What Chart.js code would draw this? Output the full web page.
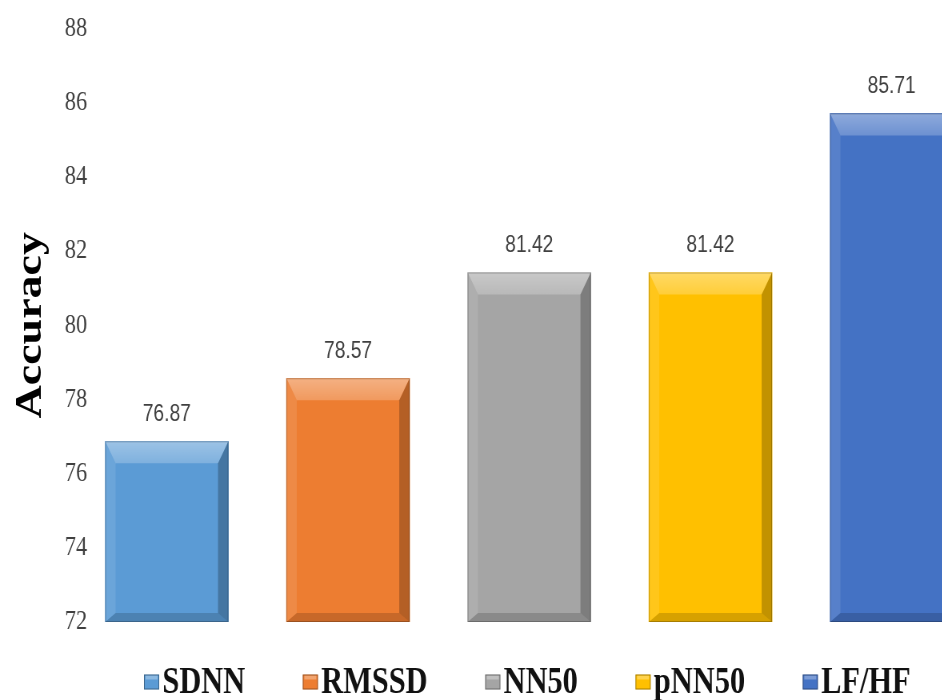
<!DOCTYPE html>
<html>
<head>
<meta charset="utf-8">
<script src="https://cdn.jsdelivr.net/npm/chart.js@4"></script>
<style>
html, body { margin: 0; padding: 0; background: #fff; overflow: hidden; width: 942px; height: 700px; }
/* the chart is laid out wide and narrowed horizontally, giving condensed lettering */
#wrap { width: 1260px; height: 700px; transform: scaleX(0.8); transform-origin: 0 0; }
#chart { display: block; width: 1260px; height: 700px; }
</style>
</head>
<body>
<div id="wrap"><canvas id="chart" width="1260" height="700"></canvas></div>
<script>
// HRV feature vs. classification accuracy
const measures = ['SDNN', 'RMSSD', 'NN50', 'pNN50', 'LF/HF'];
const accuracy = [76.87, 78.57, 81.42, 81.42, 85.71];
const yTicks = [72, 74, 76, 78, 80, 82, 84, 86, 88];
const barColors = ['#5B9BD5', '#ED7D31', '#A5A5A5', '#FFC000', '#4472C4'];

const poly = (ctx, pts, fill) => {
  ctx.beginPath();
  ctx.moveTo(pts[0][0], pts[0][1]);
  for (let k = 1; k < pts.length; k++) ctx.lineTo(pts[k][0], pts[k][1]);
  ctx.closePath();
  ctx.fillStyle = fill;
  ctx.fill();
};

// bevelled look on each bar
const bevelPlugin = {
  id: 'bevel',
  afterDatasetsDraw(chart) {
    const ctx = chart.ctx;
    const bottom = chart.chartArea.bottom;
    chart.getDatasetMeta(0).data.forEach((bar) => {
      const { x, y, base, width } = bar.getProps(['x', 'y', 'base', 'width'], true);
      const l = x - width / 2, r = x + width / 2, t = y, b = Math.min(base, bottom);
      const sx = 13, st = 22, sb = 9;
      ctx.save();
      const g = ctx.createLinearGradient(0, t, 0, t + st);
      g.addColorStop(0, 'rgba(255,255,255,0.40)');
      g.addColorStop(1, 'rgba(255,255,255,0.22)');
      poly(ctx, [[l, t], [r, t], [r - sx, t + st], [l + sx, t + st]], g);
      poly(ctx, [[l, t], [l + sx, t + st], [l + sx, b - sb], [l, b]], 'rgba(255,255,255,0.10)');
      poly(ctx, [[r, t], [r, b], [r - sx, b - sb], [r - sx, t + st]], 'rgba(0,0,0,0.24)');
      poly(ctx, [[l, b], [l + sx, b - sb], [r - sx, b - sb], [r, b]], 'rgba(0,0,0,0.16)');
      ctx.strokeStyle = 'rgba(0,0,0,0.22)';
      ctx.lineWidth = 1;
      ctx.strokeRect(l + 0.5, t + 0.5, width - 1, b - t - 1);
      ctx.restore();
    });
  }
};

// value printed above each bar
const valueLabels = {
  id: 'valueLabels',
  afterDatasetsDraw(chart) {
    const ctx = chart.ctx;
    const ds = chart.data.datasets[0];
    ctx.save();
    ctx.font = '24px "Liberation Sans", Arial, sans-serif';
    ctx.fillStyle = '#404040';
    ctx.textAlign = 'center';
    ctx.textBaseline = 'middle';
    chart.getDatasetMeta(0).data.forEach((bar, i) => {
      ctx.fillText(ds.data[i].y.toFixed(2), bar.x, bar.y - 27);
    });
    ctx.restore();
  }
};

// legend row beneath the plot
const legendRow = {
  id: 'legendRow',
  afterDraw(chart) {
    const ctx = chart.ctx;
    const area = chart.chartArea;
    const boxW = 19, boxH = 15, gapBox = 4, gapItem = 72;
    const cy = 682;
    ctx.save();
    ctx.font = 'bold 38px "Liberation Serif", "Times New Roman", serif';
    ctx.textBaseline = 'middle';
    ctx.textAlign = 'left';
    let xPos = area.left + 53;
    measures.forEach((m, i) => {
      const w = ctx.measureText(m).width;
      ctx.fillStyle = barColors[i];
      ctx.fillRect(xPos, cy - boxH / 2, boxW, boxH);
      ctx.fillStyle = 'rgba(255,255,255,0.3)';
      ctx.fillRect(xPos + 2, cy - boxH / 2 + 1, boxW - 4, 4);
      ctx.strokeStyle = 'rgba(0,0,0,0.35)';
      ctx.lineWidth = 1;
      ctx.strokeRect(xPos + 0.5, cy - boxH / 2 + 0.5, boxW - 1, boxH - 1);
      ctx.fillStyle = '#111';
      ctx.fillText(m, xPos + boxW + gapBox, cy + 1);
      xPos += boxW + gapBox + w + gapItem;
    });
    ctx.restore();
  }
};

new Chart(document.getElementById('chart'), {
  type: 'bar',
  data: {
    datasets: [{
      label: 'Accuracy',
      data: measures.map((m, i) => ({ x: i, y: accuracy[i] })),
      backgroundColor: barColors,
      borderWidth: 0,
      barThickness: 154
    }]
  },
  options: {
    responsive: false,
    animation: false,
    devicePixelRatio: 1,
    layout: { padding: { top: 28.5, right: 9, bottom: 78, left: 0 } },
    plugins: { legend: { display: false }, tooltip: { enabled: false } },
    scales: {
      x: {
        type: 'linear',
        display: false,
        offset: false,
        grid: { offset: false },
        min: -0.36,
        max: 4.602
      },
      y: {
        min: 72,
        max: 88,
        afterBuildTicks: (scale) => { scale.ticks = yTicks.map(v => ({ value: v })); },
        // keep the tick-label gap from adding space above and below the plot
        afterFit: (scale) => { scale.paddingTop = 0; scale.paddingBottom = 0; },
        grid: { display: false, drawTicks: false },
        border: { display: false },
        ticks: {
          padding: 18,
          color: '#404040',
          font: { family: '"Liberation Serif", "Times New Roman", serif', size: 28 }
        },
        title: {
          display: true,
          text: 'Accuracy',
          color: '#000',
          padding: { top: 16, bottom: 1 },
          font: { family: '"Liberation Serif", "Times New Roman", serif', size: 46, weight: 'bold', lineHeight: 1 }
        }
      }
    }
  },
  plugins: [bevelPlugin, valueLabels, legendRow]
});
</script>
</body>
</html>
